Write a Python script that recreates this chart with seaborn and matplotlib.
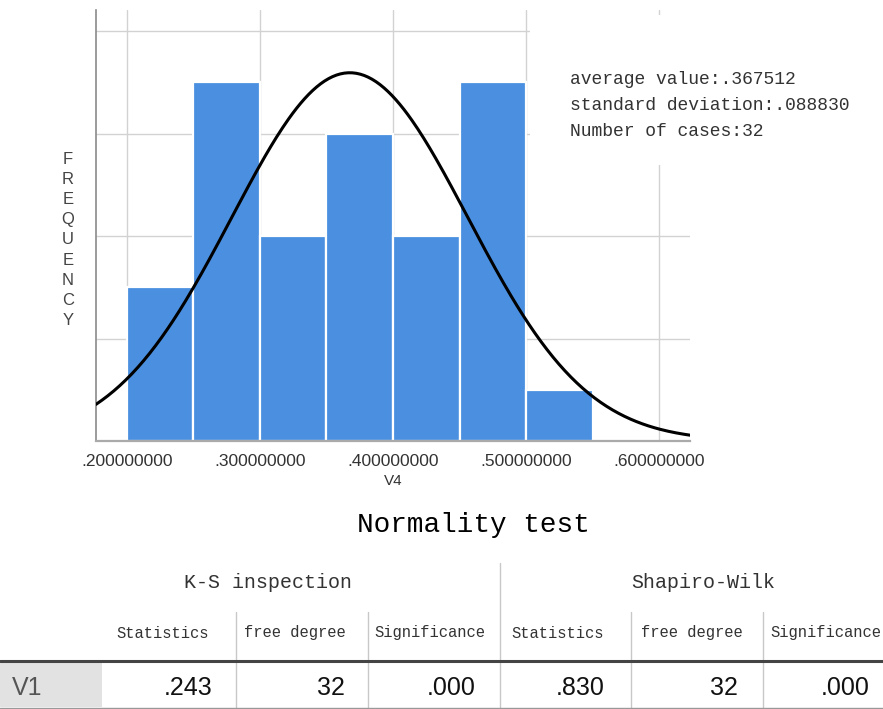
import numpy as np
import pandas as pd
import matplotlib
matplotlib.use("Agg")
import matplotlib.pyplot as plt
from matplotlib.patches import Rectangle
import seaborn as sns

# histogram bins (V4) and counts
bin_edges = [0.20, 0.25, 0.30, 0.35, 0.40, 0.45, 0.50, 0.55]
bin_counts = [3, 7, 4, 6, 4, 7, 1]
x_ticks = [0.2, 0.3, 0.4, 0.5, 0.6]
x_tick_labels = [".200000000", ".300000000", ".400000000", ".500000000", ".600000000"]

# summary stats shown in the box
mean_v4 = 0.367512
sd_v4 = 0.088830
n_cases = 32

# normality test table
group_names = ["K-S inspection", "Shapiro-Wilk"]
col_names = ["Statistics", "free degree", "Significance",
             "Statistics", "free degree", "Significance"]
row_name = "V1"
row_values = [".243", "32", ".000", ".830", "32", ".000"]

sns.set_theme(style="white")
plt.rcParams['font.family'] = ['Liberation Sans', 'DejaVu Sans']

W, H = 883, 709
fig = plt.figure(figsize=(W / 100, H / 100), dpi=100)


def fx(px):
    return px / W


def fy(py):
    return 1 - py / H


ax = fig.add_axes([fx(96), fy(441), fx(690 - 96), (441 - 10) / H])

bin_mids = [(a + b) / 2 for a, b in zip(bin_edges[:-1], bin_edges[1:])]
hist_df = pd.DataFrame({"V4": bin_mids, "count": bin_counts})
sns.histplot(data=hist_df, x="V4", weights="count", bins=bin_edges, ax=ax,
             color="#4a8fe0", alpha=1, edgecolor="white", linewidth=1.6, zorder=2)

# SPSS-style fitted normal curve
bw = bin_edges[1] - bin_edges[0]
xs = np.linspace(0.1767, 0.6233, 300)
ys = n_cases * bw / (sd_v4 * np.sqrt(2 * np.pi)) * np.exp(-0.5 * ((xs - mean_v4) / sd_v4) ** 2)
sns.lineplot(x=xs, y=ys, ax=ax, color="black", linewidth=2.2, zorder=3)

ax.set_xlim(0.1767, 0.6233)
ax.set_ylim(0, 8.41)
ax.set_xticks(x_ticks)
ax.set_xticklabels(x_tick_labels, fontsize=12.5, color="#333333")
ax.set_yticks([2, 4, 6, 8])
ax.set_yticklabels([])
ax.tick_params(axis="both", length=0, pad=9)
ax.grid(True, color="#d2d2d2", linewidth=1)
ax.set_axisbelow(True)
ax.set_xlabel("")
ax.set_ylabel("")
for s in ["top", "right"]:
    ax.spines[s].set_visible(False)
ax.spines["left"].set_color("#8a8a8a")
ax.spines["left"].set_linewidth(1.2)
ax.spines["bottom"].set_color("#aaaaaa")
ax.spines["bottom"].set_linewidth(1.6)

fig.text(fx(393), fy(481), "V4", ha="center", va="center", fontsize=11, color="#333333")
fig.text(fx(68), fy(240), "\n".join("FREQUENCY"), ha="center", va="center",
         fontsize=12, color="#444444", linespacing=1.42)

# white info box over the plot
fig.add_artist(Rectangle((fx(530), fy(165)), fx(330), 150 / H, transform=fig.transFigure,
                         facecolor="white", edgecolor="none", zorder=5))
info_lines = [f"average value:.{str(mean_v4).split('.')[1]}",
              f"standard deviation:.{f'{sd_v4:.6f}'.split('.')[1]}",
              f"Number of cases:{n_cases}"]
for i, line in enumerate(info_lines):
    fig.text(fx(570), fy(79 + 26.5 * i), line, ha="left", va="center", fontsize=13,
             family="Liberation Mono", color="#333333", zorder=6)

# table
fig.text(fx(473), fy(525), "Normality test", ha="center", va="center", fontsize=20,
         family="Liberation Mono", color="black")
fig.text(fx(268), fy(583), group_names[0], ha="center", va="center", fontsize=14.4,
         family="Liberation Mono", color="#333333")
fig.text(fx(703), fy(583), group_names[1], ha="center", va="center", fontsize=14.4,
         family="Liberation Mono", color="#333333")

col_centers = [163, 295, 430, 558, 692, 826]
col_rights = [213, 345, 476, 605, 738, 870]
for c, name in zip(col_centers, col_names):
    fig.text(fx(c), fy(633), name, ha="center", va="center", fontsize=11.2,
             family="Liberation Mono", color="#333333")

fig.add_artist(Rectangle((0, fy(707)), fx(102), 45 / H, transform=fig.transFigure,
                         facecolor="#e2e2e2", edgecolor="none"))
fig.text(fx(12), fy(688), row_name, ha="left", va="center", fontsize=18, color="#555555")
for r, v in zip(col_rights, row_values):
    fig.text(fx(r), fy(688), v, ha="right", va="center", fontsize=18, color="#111111")

# table rules
line_kw = dict(transform=fig.transFigure, color="#c8c8c8", linewidth=1)
fig.add_artist(plt.Line2D([fx(500), fx(500)], [fy(563), fy(707)], **line_kw))
for xv in [236, 368, 631, 763]:
    fig.add_artist(plt.Line2D([fx(xv), fx(xv)], [fy(612), fy(707)], **line_kw))
fig.add_artist(plt.Line2D([0, 1], [fy(661), fy(661)], transform=fig.transFigure,
                          color="#444444", linewidth=2.2))
fig.add_artist(plt.Line2D([0, 1], [fy(707.5), fy(707.5)], transform=fig.transFigure,
                          color="#999999", linewidth=1))

fig.savefig("out.png", dpi=100)
